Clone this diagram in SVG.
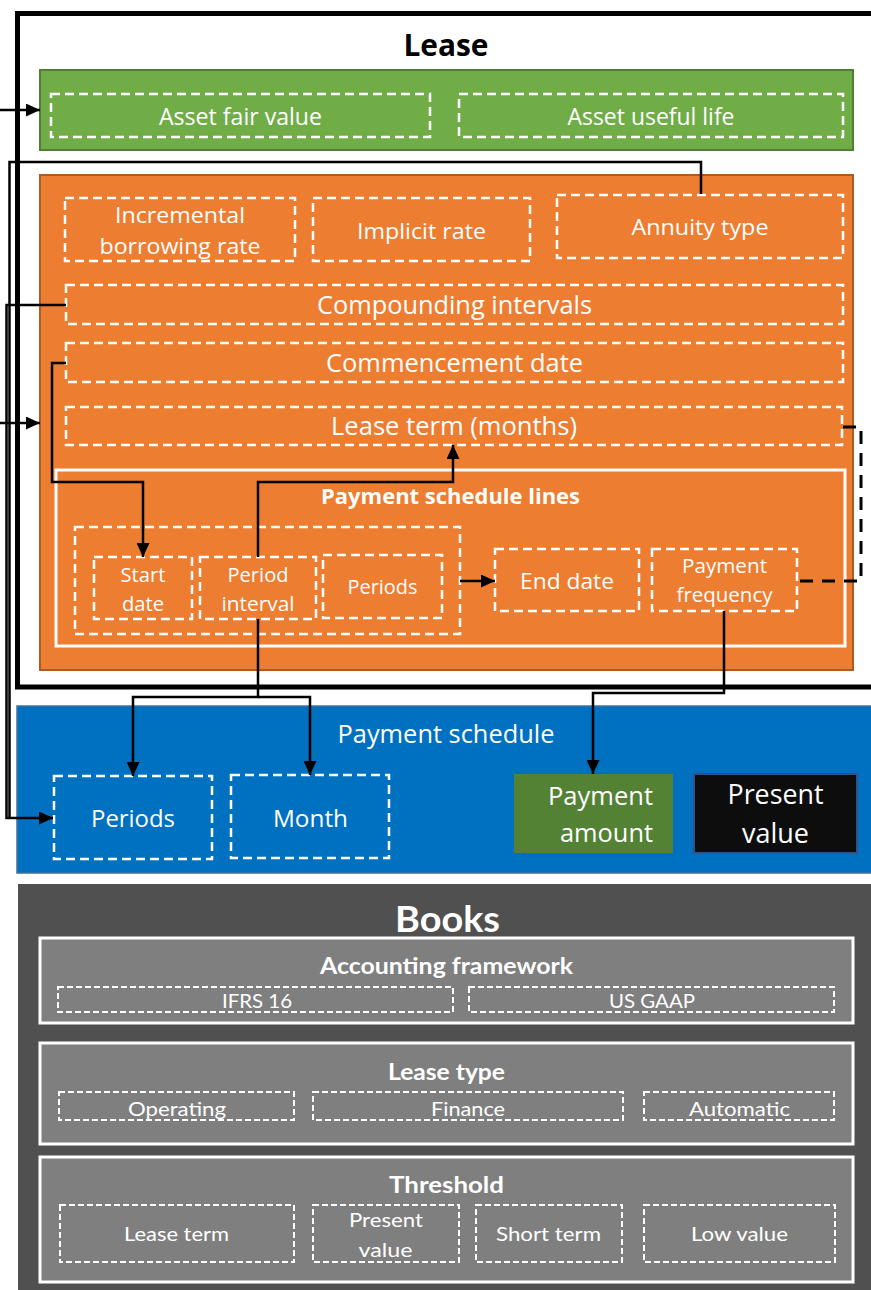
<svg xmlns="http://www.w3.org/2000/svg" width="871" height="1290" viewBox="0 0 871 1290">
<style>
.t{font-family:"Open Sans","Noto Sans","Liberation Sans",sans-serif;fill:#fff;text-anchor:middle}
.b{font-weight:bold}
.k{fill:#000}
.c{font-family:Lato,"Open Sans","Liberation Sans",sans-serif;fill:#fff;text-anchor:middle}
.dw{fill:none;stroke:#fff;stroke-width:2.5;stroke-dasharray:9 5}
.dg{fill:none;stroke:#fff;stroke-width:2;stroke-dasharray:6 3}
.sw{fill:#7f7f7f;stroke:#fff;stroke-width:3}
.cn{fill:none;stroke:#000;stroke-width:2.5}
</style>
<defs>
<marker id="ah" markerUnits="userSpaceOnUse" markerWidth="14" markerHeight="13" refX="14" refY="6.5" orient="auto">
<path d="M0,0 L14,6.5 L0,13 z" fill="#000"/>
</marker>
</defs>
<rect width="871" height="1290" fill="#fff"/>

<g id="lease">
<rect x="17.5" y="13.5" width="880" height="673.5" fill="#fff" stroke="#000" stroke-width="5"/>
<text class="t b k" x="446" y="56" font-size="30" textLength="85" lengthAdjust="spacingAndGlyphs">Lease</text>
</g>

<g id="asset">
<rect x="40" y="70" width="813" height="80" fill="#70ad47" stroke="#507e32" stroke-width="2"/>
</g>
<g id="asset-fair-value">
<rect class="dw" x="51" y="94" width="379" height="43"/>
<text class="t" x="240.5" y="125" font-size="23" textLength="163" lengthAdjust="spacingAndGlyphs">Asset fair value</text>
</g>
<g id="asset-useful-life">
<rect class="dw" x="459" y="94" width="384" height="43"/>
<text class="t" x="651" y="125" font-size="23" textLength="167" lengthAdjust="spacingAndGlyphs">Asset useful life</text>
</g>

<g id="terms">
<rect x="40" y="175" width="813" height="495" fill="#ed7d31" stroke="#ae5a21" stroke-width="2"/>
</g>
<g id="incremental-borrowing-rate">
<rect class="dw" x="65" y="198" width="230" height="63"/>
<text class="t" x="180" y="223" font-size="22" textLength="130" lengthAdjust="spacingAndGlyphs">Incremental</text>
<text class="t" x="180" y="254" font-size="22" textLength="161" lengthAdjust="spacingAndGlyphs">borrowing rate</text>
</g>
<g id="implicit-rate">
<rect class="dw" x="313" y="198" width="217" height="63"/>
<text class="t" x="421.5" y="239" font-size="22" textLength="129" lengthAdjust="spacingAndGlyphs">Implicit rate</text>
</g>
<g id="annuity-type">
<rect class="dw" x="557" y="195" width="286" height="63"/>
<text class="t" x="700" y="235" font-size="22" textLength="137" lengthAdjust="spacingAndGlyphs">Annuity type</text>
</g>
<g id="compounding-intervals">
<rect class="dw" x="66" y="285" width="777" height="39"/>
<text class="t" x="454.5" y="314" font-size="25" textLength="275" lengthAdjust="spacingAndGlyphs">Compounding intervals</text>
</g>
<g id="commencement-date">
<rect class="dw" x="66" y="343" width="777" height="39"/>
<text class="t" x="454.5" y="372" font-size="25" textLength="257" lengthAdjust="spacingAndGlyphs">Commencement date</text>
</g>
<g id="lease-term-months">
<rect class="dw" x="66" y="407" width="776" height="38"/>
<text class="t" x="454" y="435" font-size="25" textLength="246" lengthAdjust="spacingAndGlyphs">Lease term (months)</text>
</g>

<g id="payment-schedule-lines">
<rect x="56" y="470" width="789" height="176" fill="none" stroke="#fff" stroke-width="3"/>
<text class="t b" x="450.5" y="504" font-size="21" textLength="259" lengthAdjust="spacingAndGlyphs">Payment schedule lines</text>
</g>
<g id="period-group">
<rect class="dw" x="75" y="527" width="385" height="107"/>
</g>
<g id="start-date">
<rect class="dw" x="94" y="557" width="98" height="62"/>
<text class="t" x="143" y="582" font-size="20" textLength="45" lengthAdjust="spacingAndGlyphs">Start</text>
<text class="t" x="143" y="611" font-size="20" textLength="42" lengthAdjust="spacingAndGlyphs">date</text>
</g>
<g id="period-interval">
<rect class="dw" x="200" y="557" width="116" height="62"/>
<text class="t" x="258" y="582" font-size="20" textLength="61" lengthAdjust="spacingAndGlyphs">Period</text>
<text class="t" x="258" y="611" font-size="20" textLength="73" lengthAdjust="spacingAndGlyphs">interval</text>
</g>
<g id="periods-line">
<rect class="dw" x="323" y="555" width="119" height="63"/>
<text class="t" x="382.5" y="594" font-size="20" textLength="70" lengthAdjust="spacingAndGlyphs">Periods</text>
</g>
<g id="end-date">
<rect class="dw" x="495" y="549" width="144" height="62"/>
<text class="t" x="567" y="589" font-size="22" textLength="94" lengthAdjust="spacingAndGlyphs">End date</text>
</g>
<g id="payment-frequency">
<rect class="dw" x="652" y="549" width="145" height="62"/>
<text class="t" x="724.5" y="573" font-size="20" textLength="85" lengthAdjust="spacingAndGlyphs">Payment</text>
<text class="t" x="724.5" y="602" font-size="20" textLength="96" lengthAdjust="spacingAndGlyphs">frequency</text>
</g>

<g id="payment-schedule">
<rect x="17" y="706" width="880" height="167" fill="#0070c0" stroke="#41719c" stroke-width="1.5"/>
<text class="t" x="446" y="743" font-size="25" textLength="217" lengthAdjust="spacingAndGlyphs">Payment schedule</text>
</g>
<g id="periods">
<rect class="dw" x="54" y="776" width="158" height="83"/>
<text class="t" x="133" y="827" font-size="24" textLength="84" lengthAdjust="spacingAndGlyphs">Periods</text>
</g>
<g id="month">
<rect class="dw" x="231" y="775" width="158" height="83"/>
<text class="t" x="310.5" y="827" font-size="24" textLength="75" lengthAdjust="spacingAndGlyphs">Month</text>
</g>
<g id="payment-amount">
<rect x="514" y="774" width="159" height="79" fill="#548235"/>
<text class="t" x="653" y="805" font-size="25" text-anchor="end" style="text-anchor:end" textLength="105" lengthAdjust="spacingAndGlyphs">Payment</text>
<text class="t" x="653" y="842" font-size="25" style="text-anchor:end" textLength="93" lengthAdjust="spacingAndGlyphs">amount</text>
</g>
<g id="present-value">
<rect x="694" y="774" width="163" height="79" fill="#0d0d0d" stroke="#2f528f" stroke-width="2"/>
<text class="t" x="775.5" y="804" font-size="27" textLength="96" lengthAdjust="spacingAndGlyphs">Present</text>
<text class="t" x="775.5" y="843" font-size="27" textLength="67" lengthAdjust="spacingAndGlyphs">value</text>
</g>

<g id="books">
<rect x="18" y="884" width="880" height="420" fill="#505050"/>
<text class="c b" x="447.5" y="932" font-size="36" textLength="105" lengthAdjust="spacingAndGlyphs">Books</text>
</g>
<g id="accounting-framework">
<rect class="sw" x="40" y="938" width="813" height="85"/>
<text class="c b" x="446.5" y="974" font-size="22" textLength="253" lengthAdjust="spacingAndGlyphs">Accounting framework</text>
</g>
<g id="ifrs16">
<rect class="dg" x="58" y="987" width="395" height="25"/>
<text class="c" x="257" y="1008" font-size="20" textLength="70" lengthAdjust="spacingAndGlyphs">IFRS 16</text>
</g>
<g id="us-gaap">
<rect class="dg" x="469" y="987" width="365" height="25"/>
<text class="c" x="652" y="1008" font-size="20" textLength="86" lengthAdjust="spacingAndGlyphs">US GAAP</text>
</g>
<g id="lease-type">
<rect class="sw" x="40" y="1043" width="813" height="101"/>
<text class="c b" x="446.5" y="1080" font-size="22" textLength="117" lengthAdjust="spacingAndGlyphs">Lease type</text>
</g>
<g id="operating">
<rect class="dg" x="59" y="1092" width="235" height="28"/>
<text class="c" x="177" y="1116" font-size="20" textLength="98" lengthAdjust="spacingAndGlyphs">Operating</text>
</g>
<g id="finance">
<rect class="dg" x="313" y="1092" width="310" height="28"/>
<text class="c" x="468" y="1116" font-size="20" textLength="74" lengthAdjust="spacingAndGlyphs">Finance</text>
</g>
<g id="automatic">
<rect class="dg" x="644" y="1092" width="190" height="28"/>
<text class="c" x="739.5" y="1116" font-size="20" textLength="101" lengthAdjust="spacingAndGlyphs">Automatic</text>
</g>
<g id="threshold">
<rect class="sw" x="40" y="1157" width="813" height="125"/>
<text class="c b" x="446.5" y="1193" font-size="22" textLength="115" lengthAdjust="spacingAndGlyphs">Threshold</text>
</g>
<g id="threshold-lease-term">
<rect class="dg" x="60" y="1205" width="234" height="57"/>
<text class="c" x="176.5" y="1241" font-size="20" textLength="105" lengthAdjust="spacingAndGlyphs">Lease term</text>
</g>
<g id="threshold-present-value">
<rect class="dg" x="313" y="1205" width="146" height="57"/>
<text class="c" x="386" y="1227" font-size="20" textLength="74" lengthAdjust="spacingAndGlyphs">Present</text>
<text class="c" x="385.5" y="1257" font-size="20" textLength="54" lengthAdjust="spacingAndGlyphs">value</text>
</g>
<g id="short-term">
<rect class="dg" x="476" y="1205" width="146" height="57"/>
<text class="c" x="548.5" y="1241" font-size="20" textLength="105" lengthAdjust="spacingAndGlyphs">Short term</text>
</g>
<g id="low-value">
<rect class="dg" x="644" y="1205" width="191" height="57"/>
<text class="c" x="739.5" y="1241" font-size="20" textLength="97" lengthAdjust="spacingAndGlyphs">Low value</text>
</g>

<g id="connectors">
<path class="cn" d="M0,110 H40" marker-end="url(#ah)"/>
<path class="cn" d="M0,423 H40" marker-end="url(#ah)"/>
<path class="cn" d="M701,194 V162 H9.5 V818"/>
<path class="cn" d="M66,305 H6.5 V818 H53" marker-end="url(#ah)"/>
<path class="cn" d="M66,363 H52 V482 H143 V557" marker-end="url(#ah)"/>
<path class="cn" d="M258,557 V482 H453 V445" marker-end="url(#ah)"/>
<path class="cn" d="M460,581 H495" marker-end="url(#ah)"/>
<path class="cn" d="M258,619 V697 H133 V776" marker-end="url(#ah)"/>
<path class="cn" d="M258,697 H310 V775" marker-end="url(#ah)"/>
<path class="cn" d="M724,611 V693 H593 V774" marker-end="url(#ah)"/>
<path d="M843,427 H861 V581 H797" fill="none" stroke="#000" stroke-width="3" stroke-dasharray="13 9"/>
</g>
</svg>
